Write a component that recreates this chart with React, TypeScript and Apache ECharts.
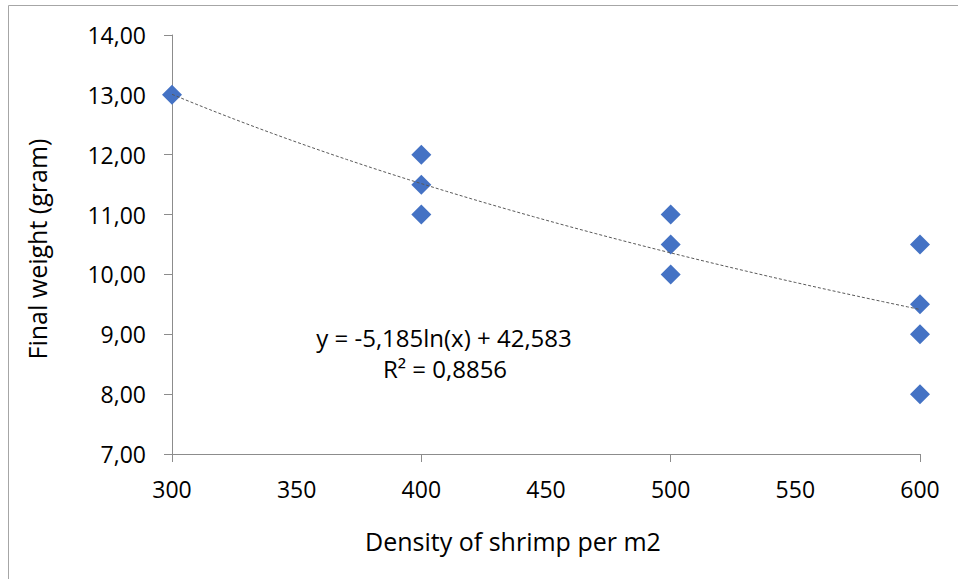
import React, { useEffect, useRef } from "react";
import * as echarts from "echarts";

const DENSITY = [300, 400, 400, 400, 500, 500, 500, 600, 600, 600, 600];
const FINAL_WEIGHT = [13, 12, 11.5, 11, 11, 10.5, 10, 10.5, 9.5, 9, 8];
const TREND_SLOPE = -5.185;
const TREND_INTERCEPT = 42.583;
const X_MIN = 300;
const X_MAX = 600;
const Y_MIN = 7;
const Y_MAX = 14;
const EQUATION_TEXT = "y = -5,185ln(x) + 42,583";
const R2_TEXT = "R² = 0,8856";
const X_TITLE = "Density of shrimp per m2";
const Y_TITLE = "Final weight (gram)";

const FONT = "'Open Sans', 'Noto Sans', sans-serif";

export default function App() {
  const ref = useRef<HTMLDivElement>(null);
  useEffect(() => {
    if (!ref.current) return;
    const chart = echarts.init(ref.current, null, { renderer: "svg" });
    const trend: number[][] = [];
    for (let x = X_MIN; x <= X_MAX; x += 5) {
      trend.push([x, TREND_SLOPE * Math.log(x) + TREND_INTERCEPT]);
    }
    const fmt = (v: number) => v.toFixed(2).replace(".", ",");
    const axisColor = "#8c8c8c";
    chart.setOption({
      animation: false,
      backgroundColor: "#ffffff",
      grid: { left: 172, top: 35, width: 748, height: 419, containLabel: false },
      xAxis: [
        {
          type: "value",
          min: X_MIN,
          max: X_MAX,
          interval: 50,
          axisLine: { show: true, lineStyle: { color: axisColor, width: 1 } },
          axisTick: { show: false },
          splitLine: { show: false },
          axisLabel: { color: "#000", fontFamily: FONT, fontSize: 23, margin: 23 },
        },
        {
          type: "value",
          min: X_MIN,
          max: X_MAX,
          interval: 100,
          position: "bottom",
          axisLine: { show: false },
          axisTick: { show: true, length: 8, lineStyle: { color: axisColor, width: 1 } },
          splitLine: { show: false },
          axisLabel: { show: false },
        },
      ],
      yAxis: {
        type: "value",
        min: Y_MIN,
        max: Y_MAX,
        interval: 1,
        axisLine: { show: true, lineStyle: { color: axisColor, width: 1 } },
        axisTick: { show: true, length: 8, lineStyle: { color: axisColor, width: 1 } },
        splitLine: { show: false },
        axisLabel: {
          color: "#000",
          fontFamily: FONT,
          fontSize: 23,
          margin: 26,
          formatter: (v: number) => fmt(v),
        },
      },
      series: [
        {
          type: "scatter",
          data: DENSITY.map((d, i) => [d, FINAL_WEIGHT[i]]),
          symbol: "diamond",
          symbolSize: 20,
          itemStyle: { color: "#4472C4", opacity: 1 },
          z: 2,
        },
        {
          type: "line",
          data: trend,
          showSymbol: false,
          symbol: "none",
          smooth: false,
          lineStyle: { color: "#595959", width: 1, type: [3, 2] },
          z: 3,
        },
      ],
      graphic: [
        {
          type: "rect",
          shape: { x: 8.5, y: 5.5, width: 1200, height: 1000 },
          style: { fill: "none", stroke: "#a6a6a6", lineWidth: 1 },
          silent: true,
        },
        {
          type: "text",
          x: 444,
          y: 337,
          style: {
            text: EQUATION_TEXT,
            fill: "#000",
            font: `24px ${FONT}`,
            textAlign: "center",
            textVerticalAlign: "middle",
          },
        },
        {
          type: "text",
          x: 445,
          y: 368,
          style: {
            text: R2_TEXT,
            fill: "#000",
            font: `24px ${FONT}`,
            textAlign: "center",
            textVerticalAlign: "middle",
          },
        },
        {
          type: "text",
          x: 513,
          y: 541,
          style: {
            text: X_TITLE,
            fill: "#000",
            font: `25px ${FONT}`,
            textAlign: "center",
            textVerticalAlign: "middle",
          },
        },
        {
          type: "text",
          x: 37,
          y: 249,
          rotation: Math.PI / 2,
          style: {
            text: Y_TITLE,
            fill: "#000",
            font: `25px ${FONT}`,
            textAlign: "center",
            textVerticalAlign: "middle",
          },
        },
      ],
    });
    return () => chart.dispose();
  }, []);
  return (
    <div
      ref={ref}
      style={{ position: "fixed", left: 0, top: 0, width: 958, height: 579 }}
    />
  );
}
